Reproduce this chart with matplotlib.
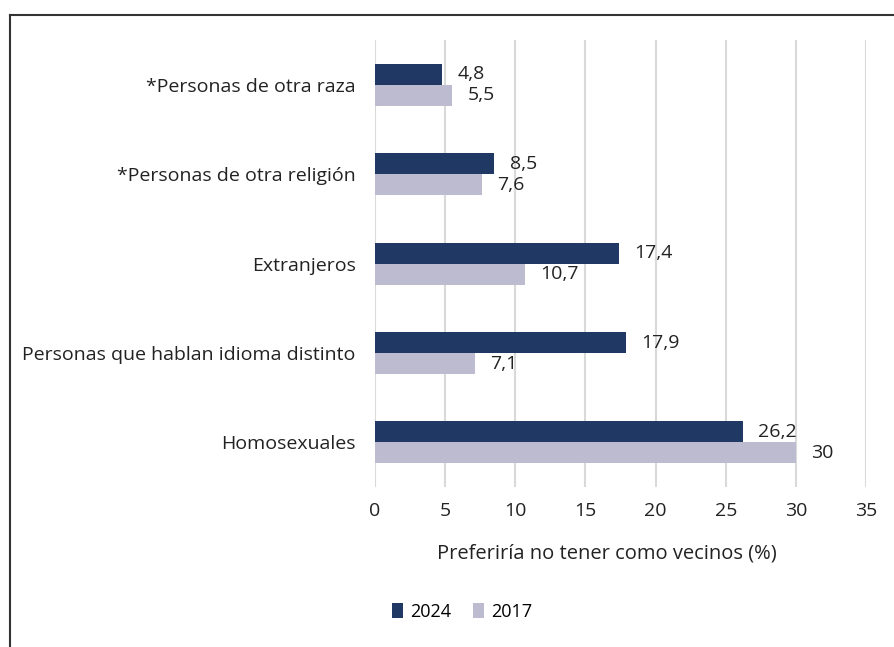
import matplotlib.pyplot as plt
import numpy as np
from matplotlib.lines import Line2D

categories = ["Homosexuales", "Personas que hablan idioma distinto", "Extranjeros",
              "*Personas de otra religión", "*Personas de otra raza"]
vals_2024 = [26.2, 17.9, 17.4, 8.5, 4.8]
vals_2017 = [30, 7.1, 10.7, 7.6, 5.5]
labels_2024 = ["26,2", "17,9", "17,4", "8,5", "4,8"]
labels_2017 = ["30", "7,1", "10,7", "7,6", "5,5"]

plt.rcParams['font.family'] = ['Open Sans', 'DejaVu Sans']

fig = plt.figure(figsize=(8.94, 6.47), dpi=100)
ax = fig.add_axes([0.4195, 0.247, 0.5492, 0.691])

y = np.arange(len(categories))
h = 0.235
c24 = '#203864'
c17 = '#BDBBD0'
b1 = ax.barh(y + h / 2, vals_2024, height=h, color=c24, label='2024', zorder=3)
b2 = ax.barh(y - h / 2, vals_2017, height=h, color=c17, label='2017', zorder=3)

for yy, v, t in zip(y + h / 2, vals_2024, labels_2024):
    ax.annotate(t, (v, yy), xytext=(11, 0), textcoords='offset points',
                va='center', ha='left', fontsize=14, color='#222222')
for yy, v, t in zip(y - h / 2, vals_2017, labels_2017):
    ax.annotate(t, (v, yy), xytext=(11, 0), textcoords='offset points',
                va='center', ha='left', fontsize=14, color='#222222')

ax.set_xlim(0, 35)
ax.set_ylim(-0.5, 4.5)
ax.set_xticks(range(0, 36, 5))
ax.set_yticks(y)
ax.set_yticklabels(categories, fontsize=14)
ax.tick_params(axis='both', length=0, labelsize=14, colors='#222222')
ax.tick_params(axis='x', pad=11)
ax.tick_params(axis='y', pad=14)
ax.grid(axis='x', color='#D9D9D9', linewidth=1.5, zorder=0)
for s in ax.spines.values():
    s.set_visible(False)
ax.set_xlabel("Preferiría no tener como vecinos (%)", fontsize=14.5, color='#222222')
ax.xaxis.set_label_coords(0.4725, -0.125)

ax.legend(handles=[b1, b2], loc='center', bbox_to_anchor=(462 / 894, 1 - 612 / 647),
          bbox_transform=fig.transFigure, ncol=2, frameon=False, fontsize=13,
          handlelength=0.6, handleheight=0.9, handletextpad=0.4, columnspacing=1.2)

# frame lines (cropped at right and bottom)
fig.add_artist(Line2D([10 / 894, 10 / 894], [0, 1 - 15 / 647], transform=fig.transFigure,
                      color='#333333', linewidth=1.5))
fig.add_artist(Line2D([10 / 894, 1], [1 - 15 / 647, 1 - 15 / 647], transform=fig.transFigure,
                      color='#333333', linewidth=1.5))

fig.savefig("out.png", dpi=100)
plt.close(fig)
